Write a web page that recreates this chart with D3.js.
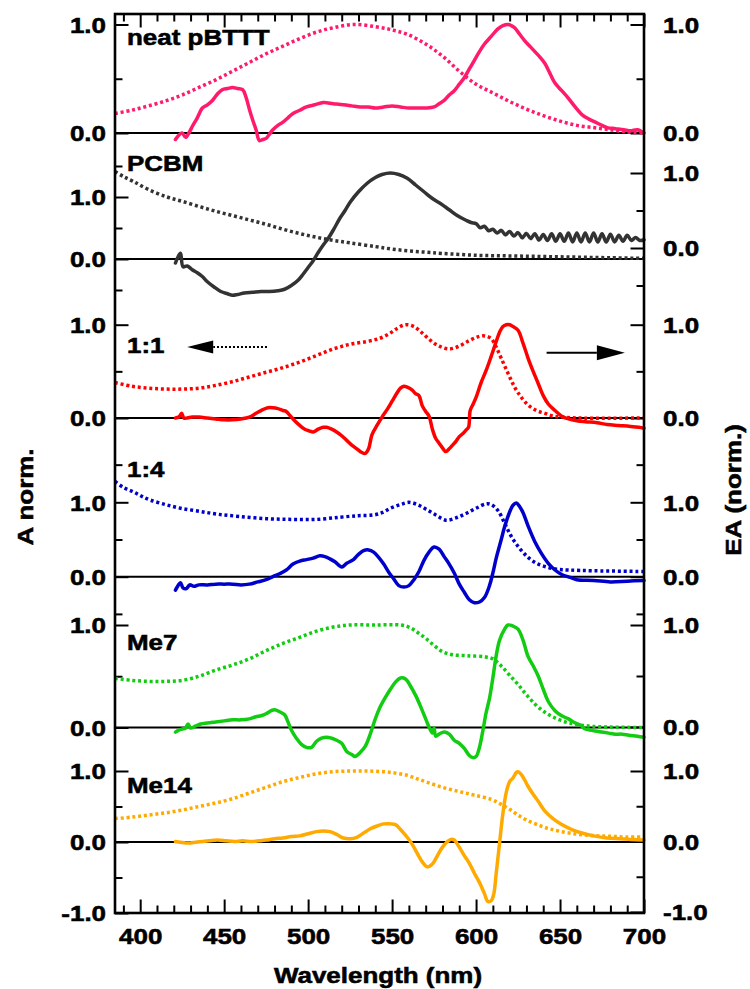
<!DOCTYPE html>
<html>
<head>
<meta charset="utf-8">
<script src="https://cdn.jsdelivr.net/npm/d3@7"></script>
<style>
  body { margin: 0; background: #fff; }
  svg { display: block; }
  text { font-family: "Liberation Sans", Arial, Helvetica, sans-serif; font-weight: bold; fill: #000; stroke: #000; stroke-width: 0.55px; }
</style>
</head>
<body>
<svg id="chart" width="750" height="989"></svg>
<script>
// ---- Spectra: [wavelength (nm), normalised value] ----
// Absorption (dotted, left axis "A norm.") and electroabsorption (solid, right axis "EA (norm.)")

const pbtttAbs = [[385,0.18],[395,0.21],[405,0.25],[416,0.30],[425,0.35],[435,0.42],[445,0.49],[455,0.57],[465,0.65],[475,0.73],[485,0.80],[495,0.87],[505,0.93],[515,0.97],[527,1.0],[540,0.98],[550,0.95],[559,0.91],[570,0.82],[580,0.71],[590,0.57],[600,0.45],[610,0.37],[620,0.29],[630,0.22],[640,0.16],[650,0.11],[660,0.07],[670,0.05],[680,0.03],[690,0.01],[700,0.0]];
const pbtttEA = [[421,-0.06],[423,-0.02],[425,0.0],[427,-0.04],[429,0.0],[431,0.06],[434,0.14],[437,0.23],[440,0.26],[443,0.30],[446,0.36],[449,0.40],[452,0.41],[455,0.42],[458,0.41],[461,0.40],[463,0.33],[465,0.22],[467,0.12],[469,0.03],[471,-0.07],[473,-0.06],[475,-0.05],[477,-0.01],[479,0.03],[482,0.07],[485,0.10],[488,0.14],[491,0.18],[495,0.21],[499,0.24],[504,0.26],[509,0.28],[515,0.27],[521,0.26],[526,0.25],[531,0.24],[536,0.24],[540,0.23],[545,0.24],[550,0.25],[555,0.24],[560,0.23],[565,0.23],[570,0.23],[575,0.24],[578,0.27],[581,0.30],[584,0.35],[587,0.39],[590,0.45],[593,0.51],[596,0.59],[599,0.67],[602,0.75],[605,0.82],[609,0.89],[613,0.96],[616,0.99],[619,1.0],[621,0.99],[623,0.97],[626,0.91],[629,0.85],[632,0.80],[635,0.75],[638,0.70],[641,0.64],[644,0.55],[647,0.46],[651,0.39],[655,0.32],[659,0.24],[663,0.17],[667,0.13],[671,0.10],[675,0.07],[678,0.05],[683,0.04],[688,0.03],[692,0.02],[696,0.03],[700,0.0]];

const pcbmAbs = [[385,1.41],[390,1.33],[396,1.25],[405,1.12],[416,1.0],[425,0.93],[436,0.84],[445,0.77],[455,0.70],[465,0.63],[475,0.56],[485,0.48],[495,0.41],[505,0.35],[515,0.30],[525,0.26],[540,0.20],[550,0.16],[560,0.13],[570,0.11],[580,0.09],[600,0.06],[620,0.05],[640,0.04],[660,0.03],[680,0.02],[700,0.01]];
const pcbmEA = [[421,-0.20],[422.5,-0.12],[424,-0.07],[425.5,-0.25],[428,-0.24],[431,-0.29],[434,-0.33],[437,-0.38],[440,-0.45],[444,-0.52],[448,-0.58],[452,-0.61],[455,-0.63],[458,-0.62],[462,-0.60],[467,-0.59],[472,-0.58],[477,-0.58],[482,-0.57],[486,-0.55],[490,-0.50],[494,-0.43],[497,-0.35],[500,-0.26],[503,-0.17],[506,-0.06],[509,0.04],[512,0.13],[515,0.24],[519,0.40],[522,0.50],[525,0.61],[530,0.75],[535,0.86],[540,0.94],[544,0.98],[549,1.0],[554,0.98],[559,0.93],[564,0.84],[569,0.75],[574,0.66],[579,0.59],[584,0.51],[589,0.43],[594,0.37],[597,0.34],[600,0.325],[602.5,0.27],[605,0.29],[607.5,0.23],[610,0.25],[612.5,0.20],[615,0.235],[617.5,0.175],[620,0.22],[622.5,0.16],[625,0.205],[627.5,0.135],[630,0.195],[632.5,0.125],[635,0.19],[637.5,0.105],[640,0.18],[642.5,0.10],[645,0.19],[647.5,0.09],[650,0.19],[652.5,0.09],[655,0.20],[657.5,0.08],[660,0.20],[662.5,0.08],[665,0.20],[667.5,0.08],[670,0.20],[672.5,0.08],[675,0.19],[677.5,0.08],[680,0.185],[682.5,0.08],[685,0.17],[687.5,0.09],[690,0.17],[692.5,0.10],[695,0.14],[697.5,0.10],[700,0.11]];

const blend11Abs = [[385,0.38],[395,0.34],[405,0.32],[415,0.31],[425,0.31],[435,0.32],[445,0.35],[455,0.39],[465,0.44],[475,0.49],[485,0.54],[495,0.60],[505,0.67],[515,0.74],[525,0.79],[535,0.82],[542,0.85],[548,0.90],[553,0.96],[558,1.0],[563,0.98],[568,0.91],[573,0.83],[578,0.77],[584,0.74],[590,0.77],[596,0.83],[601,0.87],[605,0.88],[609,0.85],[612,0.76],[615,0.64],[619,0.48],[623,0.33],[627,0.22],[631,0.14],[636,0.08],[641,0.05],[646,0.02],[652,0.01],[660,0.0],[700,0.0]];
const blend11EA = [[421,0.0],[423,0.01],[424.7,0.05],[426,0.0],[428,0.0],[431,0.01],[435,0.01],[440,0.0],[445,-0.01],[450,-0.02],[455,-0.02],[460,-0.01],[465,0.01],[469,0.05],[473,0.09],[476,0.11],[479,0.11],[482,0.10],[485,0.08],[487,0.07],[489,0.03],[492,-0.03],[495,-0.08],[498,-0.12],[501,-0.14],[503,-0.15],[506,-0.12],[509,-0.10],[511,-0.10],[514,-0.12],[517,-0.15],[520,-0.19],[523,-0.24],[526,-0.29],[529,-0.33],[532,-0.37],[534,-0.38],[536,-0.33],[538,-0.18],[541,-0.08],[544,0.01],[547,0.09],[550,0.18],[553,0.27],[555,0.32],[557,0.34],[559,0.33],[562,0.30],[564,0.26],[566,0.24],[568,0.13],[570,0.07],[572,0.02],[574,-0.12],[576,-0.22],[578,-0.27],[580,-0.32],[582,-0.36],[584,-0.33],[586,-0.29],[588,-0.25],[590,-0.20],[592,-0.17],[594,-0.13],[595.5,-0.10],[596.5,0.08],[598,0.14],[600,0.22],[603,0.38],[606,0.51],[609,0.66],[612,0.82],[614,0.92],[616,0.98],[618,1.0],[620,1.0],[622,0.98],[625,0.94],[628,0.80],[631,0.64],[634,0.50],[637,0.37],[640,0.24],[643,0.15],[647,0.08],[651,0.02],[655,-0.01],[660,-0.03],[665,-0.04],[672,-0.05],[678,-0.07],[685,-0.08],[692,-0.09],[697,-0.10],[700,-0.11]];

const blend14Abs = [[385,1.28],[390,1.20],[396,1.14],[401,1.08],[406,1.03],[415,0.97],[424,0.92],[435,0.88],[446,0.84],[459,0.81],[475,0.78],[490,0.77],[505,0.77],[519,0.80],[530,0.82],[539,0.83],[544,0.86],[549,0.92],[555,0.97],[560,1.0],[565,0.97],[570,0.91],[576,0.83],[582,0.76],[588,0.79],[594,0.85],[600,0.92],[606,0.98],[609,0.97],[613,0.89],[617,0.72],[621,0.54],[626,0.38],[631,0.26],[636,0.18],[642,0.13],[648,0.10],[655,0.09],[670,0.08],[700,0.07]];
const blend14EA = [[421,-0.18],[422.5,-0.12],[424,-0.08],[425.5,-0.15],[427.5,-0.16],[429.5,-0.11],[432,-0.13],[435,-0.11],[440,-0.11],[445,-0.10],[450,-0.10],[455,-0.10],[460,-0.11],[465,-0.10],[470,-0.07],[475,-0.04],[479,0.0],[483,0.04],[487,0.09],[491,0.17],[495,0.21],[499,0.23],[503,0.25],[507,0.28],[510,0.27],[513,0.24],[516,0.20],[520,0.13],[523,0.18],[527,0.23],[530,0.30],[533,0.35],[536,0.36],[539,0.33],[542,0.26],[545,0.17],[548,0.06],[551,-0.03],[554,-0.12],[557,-0.14],[560,-0.12],[563,-0.04],[566,0.07],[569,0.22],[572,0.33],[575,0.40],[578,0.37],[581,0.27],[584,0.17],[587,0.05],[590,-0.10],[593,-0.21],[596,-0.31],[599,-0.35],[602,-0.34],[605,-0.28],[608,-0.12],[610,0.05],[612,0.25],[615,0.50],[617,0.67],[620,0.87],[622,0.96],[624,0.99],[626,0.94],[628,0.86],[631,0.68],[635,0.47],[639,0.31],[643,0.18],[647,0.09],[651,0.03],[656,-0.01],[660,-0.04],[670,-0.05],[680,-0.07],[690,-0.06],[700,-0.05]];

const me7Abs = [[385,0.48],[395,0.46],[405,0.45],[415,0.45],[425,0.46],[435,0.50],[445,0.56],[455,0.61],[465,0.67],[475,0.75],[485,0.82],[495,0.88],[505,0.94],[515,0.98],[525,1.0],[540,1.0],[555,1.0],[560,0.98],[565,0.93],[570,0.87],[575,0.80],[580,0.74],[586,0.71],[595,0.70],[605,0.69],[610,0.67],[615,0.60],[620,0.51],[625,0.42],[630,0.32],[635,0.23],[640,0.16],[645,0.11],[652,0.06],[660,0.03],[670,0.01],[700,0.0]];
const me7EA = [[421,-0.05],[423,-0.03],[425,-0.02],[427,-0.01],[428.5,0.03],[430,-0.01],[433,0.01],[436,0.03],[440,0.04],[445,0.05],[450,0.06],[455,0.07],[460,0.07],[465,0.08],[469,0.10],[472,0.11],[475,0.13],[478,0.16],[480,0.17],[483,0.15],[486,0.12],[488,0.05],[490,-0.03],[493,-0.11],[496,-0.17],[499,-0.20],[502,-0.20],[505,-0.14],[508,-0.11],[511,-0.10],[514,-0.11],[517,-0.13],[520,-0.16],[523,-0.24],[526,-0.27],[528,-0.29],[531,-0.25],[534,-0.19],[537,-0.07],[540,0.08],[543,0.20],[546,0.29],[549,0.37],[552,0.44],[555,0.48],[558,0.47],[561,0.40],[564,0.31],[567,0.20],[570,0.08],[572,0.0],[574,-0.06],[575,-0.01],[576,-0.09],[578,-0.07],[581,-0.05],[584,-0.07],[587,-0.13],[590,-0.16],[593,-0.21],[596,-0.28],[598,-0.30],[600,-0.29],[602,-0.20],[604,-0.04],[606,0.14],[608,0.28],[610,0.48],[612,0.70],[614,0.85],[617,0.96],[619,1.0],[622,0.99],[625,0.96],[628,0.85],[631,0.69],[634,0.60],[637,0.50],[640,0.37],[643,0.25],[647,0.16],[651,0.11],[655,0.08],[659,0.04],[662,0.02],[665,-0.02],[668,-0.03],[671,-0.04],[675,-0.05],[679,-0.06],[683,-0.07],[687,-0.07],[691,-0.08],[696,-0.09],[700,-0.10]];

const me14Abs = [[385,0.33],[395,0.35],[405,0.38],[415,0.41],[425,0.45],[435,0.50],[445,0.55],[455,0.61],[465,0.69],[475,0.77],[485,0.85],[495,0.91],[505,0.96],[515,0.99],[525,1.0],[535,1.0],[545,0.99],[552,0.97],[559,0.94],[565,0.89],[571,0.84],[580,0.77],[590,0.71],[599,0.66],[609,0.60],[615,0.53],[620,0.46],[625,0.38],[630,0.31],[637,0.24],[643,0.19],[650,0.15],[660,0.11],[670,0.09],[680,0.08],[690,0.07],[700,0.07]];
const me14EA = [[421,0.0],[424,-0.01],[427,-0.02],[430,-0.02],[433,-0.01],[437,0.0],[441,0.01],[446,0.02],[451,0.01],[456,0.0],[461,0.01],[466,0.0],[471,0.01],[475,0.02],[480,0.04],[485,0.05],[490,0.07],[495,0.08],[500,0.11],[505,0.14],[509,0.15],[513,0.14],[517,0.10],[521,0.05],[525,0.04],[529,0.06],[533,0.12],[537,0.18],[541,0.22],[545,0.25],[549,0.25],[552,0.24],[555,0.17],[559,0.06],[562,-0.04],[565,-0.17],[568,-0.29],[571,-0.36],[574,-0.32],[577,-0.20],[580,-0.08],[583,0.0],[585,0.03],[587,0.02],[590,-0.08],[593,-0.20],[596,-0.31],[599,-0.45],[602,-0.58],[605,-0.74],[607,-0.85],[609,-0.84],[610.5,-0.75],[612,-0.45],[614,-0.02],[616,0.40],[618,0.70],[620,0.85],[622,0.90],[624,0.98],[625,0.99],[627,0.95],[629,0.87],[631,0.78],[634,0.67],[637,0.57],[641,0.43],[646,0.32],[651,0.24],[657,0.17],[663,0.12],[670,0.08],[678,0.05],[686,0.04],[692,0.03],[700,0.02]];

// ---- Axis ticks ----
const xMajorTicks = [400, 450, 500, 550, 600, 650, 700];
const xMinorTicks = d3.range(390, 700, 10).filter(v => v % 50 !== 0);

// ---- Layout ----
const plot = { left: 115, right: 644, top: 14, bottom: 913 };
const TEXT_STRETCH = 1.18;   // the typeface is set a little wider than Arial
const MAJOR = 13.5, MINOR = 7.5;
const LINE_W = 3.5;

// Each strip: pixel rows of 0 and 1 on the left and right axes
const panels = [
  { name: "neat pBTTT", color: "#ff1a6c", abs: pbtttAbs, ea: pbtttEA, labelY: 45,
    left: [133, 24.5], right: [133, 24.5],
    leftMajor: [0, 1], leftMinor: [0.5], rightMajor: [0, 1], rightMinor: [0.5] },
  { name: "PCBM", color: "#333333", abs: pcbmAbs, ea: pcbmEA, labelY: 171,
    left: [259, 197], right: [248, 173],
    leftMajor: [0, 1], leftMinor: [-0.5, 0.5, 1.5], rightMajor: [0, 1], rightMinor: [-0.5, 0.5] },
  { name: "1:1", color: "#ff0000", abs: blend11Abs, ea: blend11EA, labelY: 353,
    left: [418, 324.7], right: [418, 324.7],
    leftMajor: [0, 1], leftMinor: [-0.5, 0.5], rightMajor: [0, 1], rightMinor: [-0.5, 0.5] },
  { name: "1:4", color: "#0000cc", abs: blend14Abs, ea: blend14EA, labelY: 477,
    left: [576.7, 502.3], right: [576.7, 502.3],
    leftMajor: [0, 1], leftMinor: [-0.5, 0.5], rightMajor: [0, 1], rightMinor: [-0.5, 0.5] },
  { name: "Me7", color: "#11cc11", abs: me7Abs, ea: me7EA, labelY: 650,
    left: [727.5, 625], right: [727, 625],
    leftMajor: [0, 1], leftMinor: [0.5], rightMajor: [0, 1], rightMinor: [0.5] },
  { name: "Me14", color: "#ffaa00", abs: me14Abs, ea: me14EA, labelY: 793,
    left: [842, 771], right: [841.5, 771],
    leftMajor: [-1, 0, 1], leftMinor: [-0.5, 0.5], rightMajor: [-1, 0, 1], rightMinor: [-0.5, 0.5] }
];

// Direction arrows in the 1:1 strip (nm along x, value on that strip's scale)
const arrowAbs = { from: 475.5, to: 428, value: 0.76 };
const arrowEA = { from: 642, to: 688.6, value: 0.70 };

const svg = d3.select("#chart");
const x = d3.scaleLinear().domain([385, 700]).range([plot.left, plot.right]);
const fmt = d => d.toFixed(1);

function styleAxis(g) {
  g.select(".domain").remove();
  g.selectAll(".tick line").attr("stroke", "#000").attr("stroke-width", 2);
  g.selectAll("text")
    .attr("font-size", 22)
    .attr("transform", `scale(${TEXT_STRETCH},1)`);
  g.attr("font-size", null).attr("font-family", null);
}

// Bottom & top x axes (ticks point inward)
styleAxis(svg.append("g").attr("transform", `translate(0,${plot.bottom})`)
  .call(d3.axisBottom(x).tickValues(xMinorTicks).tickSize(-MINOR).tickFormat("")));
styleAxis(svg.append("g").attr("transform", `translate(0,${plot.bottom})`)
  .call(d3.axisBottom(x).tickValues(xMajorTicks).tickSize(-MAJOR).tickPadding(15).tickFormat(d3.format("d"))));
styleAxis(svg.append("g").attr("transform", `translate(0,${plot.top})`)
  .call(d3.axisTop(x).tickValues(xMinorTicks).tickSize(-MINOR).tickFormat("")));
styleAxis(svg.append("g").attr("transform", `translate(0,${plot.top})`)
  .call(d3.axisTop(x).tickValues(xMajorTicks).tickSize(-MAJOR).tickFormat("")));

const curve = d3.curveCatmullRom.alpha(0.5);

panels.forEach(p => {
  const yL = d3.scaleLinear().domain([0, 1]).range(p.left);
  const yR = d3.scaleLinear().domain([0, 1]).range(p.right);
  p.yL = yL; p.yR = yR;

  // zero line across the strip
  svg.append("line")
    .attr("x1", plot.left).attr("x2", plot.right)
    .attr("y1", yL(0)).attr("y2", yL(0))
    .attr("stroke", "#000").attr("stroke-width", 2);

  // left axis ticks (inward) and labels
  styleAxis(svg.append("g").attr("transform", `translate(${plot.left},0)`)
    .call(d3.axisLeft(yL).tickValues(p.leftMinor).tickSize(-MINOR).tickFormat("")));
  const lMaj = svg.append("g").attr("transform", `translate(${plot.left},0)`)
    .call(d3.axisLeft(yL).tickValues(p.leftMajor).tickSize(-MAJOR).tickPadding(9 / TEXT_STRETCH).tickFormat(fmt));
  styleAxis(lMaj);
  lMaj.selectAll("text").attr("dy", "0.36em");

  // right axis ticks (inward) and labels
  styleAxis(svg.append("g").attr("transform", `translate(${plot.right},0)`)
    .call(d3.axisRight(yR).tickValues(p.rightMinor).tickSize(-MINOR).tickFormat("")));
  const rMaj = svg.append("g").attr("transform", `translate(${plot.right},0)`)
    .call(d3.axisRight(yR).tickValues(p.rightMajor).tickSize(-MAJOR).tickPadding(19 / TEXT_STRETCH).tickFormat(fmt));
  styleAxis(rMaj);
  rMaj.selectAll("text").attr("dy", "0.36em");

  // absorption (dotted, left axis)
  svg.append("path")
    .attr("d", d3.line().curve(curve).x(d => x(d[0])).y(d => yL(d[1]))(p.abs))
    .attr("fill", "none").attr("stroke", p.color)
    .attr("stroke-width", LINE_W).attr("stroke-dasharray", "3,2.8");

  // electroabsorption (solid, right axis)
  svg.append("path")
    .attr("d", d3.line().curve(curve).x(d => x(d[0])).y(d => yR(d[1]))(p.ea))
    .attr("fill", "none").attr("stroke", p.color)
    .attr("stroke-width", LINE_W).attr("stroke-linejoin", "round").attr("stroke-linecap", "round");

  // sample name
  svg.append("text")
    .attr("transform", `translate(127,${p.labelY}) scale(${TEXT_STRETCH},1)`)
    .attr("font-size", 22)
    .text(p.name);
});

// Arrows in the 1:1 strip
{
  const p = panels[2];
  const ya = p.yL(arrowAbs.value);
  const baseA = x(arrowAbs.to) + 26;
  svg.append("line")
    .attr("x1", x(arrowAbs.from)).attr("x2", baseA)
    .attr("y1", ya).attr("y2", ya)
    .attr("stroke", "#000").attr("stroke-width", 2).attr("stroke-dasharray", "2,2");
  svg.append("path")
    .attr("d", `M${x(arrowAbs.to)},${ya} L${baseA},${ya - 6.5} L${baseA},${ya + 6.5} Z`)
    .attr("fill", "#000");

  const ye = p.yR(arrowEA.value);
  const baseE = x(arrowEA.to) - 28;
  svg.append("line")
    .attr("x1", x(arrowEA.from)).attr("x2", baseE)
    .attr("y1", ye).attr("y2", ye)
    .attr("stroke", "#000").attr("stroke-width", 2);
  svg.append("path")
    .attr("d", `M${x(arrowEA.to)},${ye} L${baseE},${ye - 7.5} L${baseE},${ye + 7.5} Z`)
    .attr("fill", "#000");
}

// Frame
svg.append("rect")
  .attr("x", plot.left).attr("y", plot.top)
  .attr("width", plot.right - plot.left).attr("height", plot.bottom - plot.top)
  .attr("fill", "none").attr("stroke", "#000").attr("stroke-width", 2.6);

// Axis titles
svg.append("text")
  .attr("transform", `translate(${(plot.left + plot.right) / 2 - 1.5},983) scale(${TEXT_STRETCH},1)`)
  .attr("text-anchor", "middle").attr("font-size", 22)
  .text("Wavelength (nm)");
svg.append("text")
  .attr("transform", `translate(33,497) rotate(-90) scale(${TEXT_STRETCH},1)`)
  .attr("text-anchor", "middle").attr("font-size", 22)
  .text("A norm.");
svg.append("text")
  .attr("transform", `translate(741,490) rotate(-90) scale(${TEXT_STRETCH},1)`)
  .attr("text-anchor", "middle").attr("font-size", 22)
  .text("EA (norm.)");
</script>
</body>
</html>
